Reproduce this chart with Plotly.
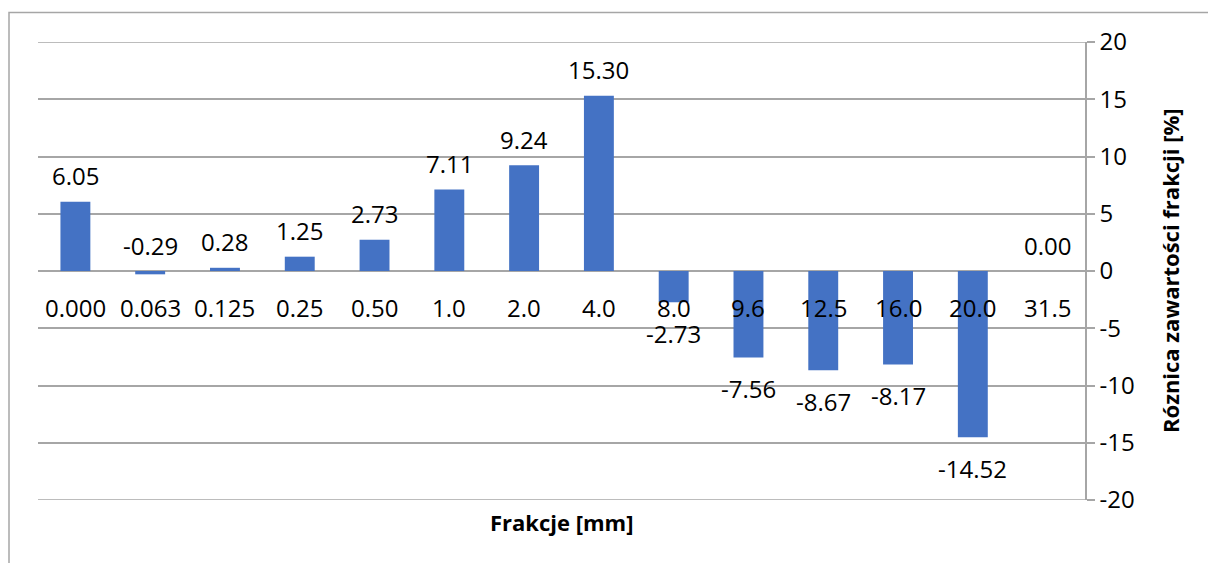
import plotly.graph_objects as go

# Sieve fractions [mm] and the difference in fraction content [%]
fractions = ["0.000", "0.063", "0.125", "0.25", "0.50", "1.0", "2.0", "4.0",
             "8.0", "9.6", "12.5", "16.0", "20.0", "31.5"]
differences = [6.05, -0.29, 0.28, 1.25, 2.73, 7.11, 9.24, 15.30,
               -2.73, -7.56, -8.67, -8.17, -14.52, 0.00]
y_ticks = [-20, -15, -10, -5, 0, 5, 10, 15, 20]

BAR_COLOR = "#4472C4"
GRID_COLOR = "#a6a6a6"
FONT = "Open Sans"
W, H = 1208, 563
M_L, M_R, M_T, M_B = 38, 123, 42, 63

pw = W - M_L - M_R
ph = H - M_T - M_B


def px_x(p):
    """Pixel column -> paper x."""
    return (p - M_L) / pw


def px_y(p):
    """Pixel row -> paper y."""
    return (H - M_B - p) / ph


fig = go.Figure(go.Bar(
    x=fractions,
    y=differences,
    marker=dict(color=BAR_COLOR, line=dict(width=0)),
    hoverinfo="x+y",
))

annotations = []
label_font = dict(family=FONT, size=24, color="#000")

# value labels: above the bar end for positive (and near-zero) values, below otherwise
for i, val in enumerate(differences):
    if val > -1:
        annotations.append(dict(x=i, y=max(val, 0), xref="x", yref="y",
                                text=f"{val:.2f}", showarrow=False,
                                yanchor="middle", yshift=26, font=label_font))
    else:
        annotations.append(dict(x=i, y=val, xref="x", yref="y",
                                text=f"{val:.2f}", showarrow=False,
                                yanchor="middle", yshift=-31, font=label_font))

# category labels sit next to the zero line
for i, cat in enumerate(fractions):
    annotations.append(dict(x=i, y=0, xref="x", yref="y", text=cat,
                            showarrow=False, yanchor="middle", yshift=-36,
                            font=label_font))

# axis titles
annotations.append(dict(x=0.5, y=px_y(522), xref="paper", yref="paper",
                        text="<b>Frakcje [mm]</b>", showarrow=False,
                        xanchor="center", yanchor="middle",
                        font=dict(family=FONT, size=22, color="#000")))
annotations.append(dict(x=px_x(1170), y=0.5, xref="paper", yref="paper",
                        text="<b>Róznica zawartości frakcji [%]</b>",
                        showarrow=False, textangle=-90,
                        xanchor="center", yanchor="middle",
                        font=dict(family=FONT, size=22, color="#000")))

# chart frame plus the gridlines at both ends of the value range
shapes = [dict(type="rect", xref="paper", yref="paper",
               x0=px_x(9), x1=px_x(1230), y0=px_y(590), y1=px_y(12.5),
               line=dict(color=GRID_COLOR, width=1.5), layer="below")]
for edge in (y_ticks[0], y_ticks[-1]):
    shapes.append(dict(type="line", xref="paper", yref="y",
                       x0=0, x1=1, y0=edge, y1=edge,
                       line=dict(color=GRID_COLOR, width=1.5), layer="below"))

fig.update_layout(
    width=W, height=H,
    margin=dict(l=M_L, r=M_R, t=M_T, b=M_B, pad=0),
    paper_bgcolor="white",
    plot_bgcolor="white",
    showlegend=False,
    bargap=0.6,
    annotations=annotations,
    shapes=shapes,
    xaxis=dict(
        type="category",
        range=[-0.5, len(fractions) - 0.5],
        showticklabels=False,
        showgrid=False,
        zeroline=False,
        showline=False,
        ticks="",
    ),
    yaxis=dict(
        side="right",
        range=[-20, 20],
        tickvals=y_ticks,
        ticktext=[str(v) for v in y_ticks],
        showgrid=True,
        gridcolor=GRID_COLOR,
        gridwidth=1.5,
        zeroline=True,
        zerolinecolor=GRID_COLOR,
        zerolinewidth=1.5,
        showline=True,
        linecolor=GRID_COLOR,
        linewidth=1.5,
        ticks="outside",
        ticklen=8,
        tickcolor=GRID_COLOR,
        tickwidth=1.5,
        tickfont=label_font,
    ),
)

fig.write_html("out.html")
